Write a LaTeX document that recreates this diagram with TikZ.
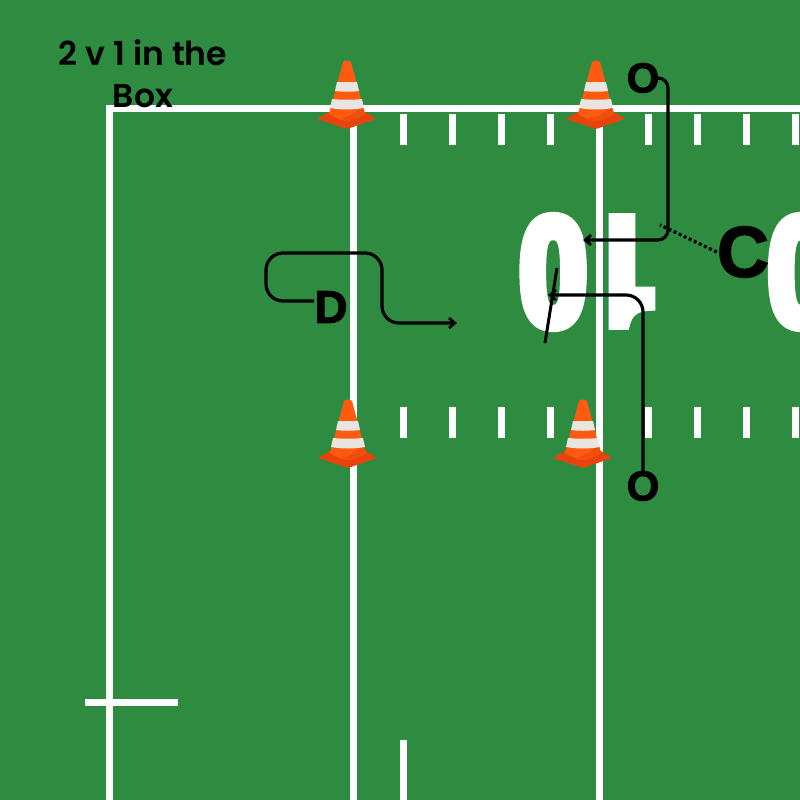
\documentclass[tikz,border=0pt]{standalone}
\usepackage{fontspec}
\usetikzlibrary{arrows.meta}
\setmainfont{Poppins}
\newfontfamily\yardfont[BoldFeatures={FakeStretch=0.78,FakeBold=6.9}]{TeX Gyre Heros}
\newfontfamily\labfont{Poppins SemiBold}
\newfontfamily\markfont[BoldFeatures={FakeBold=2}]{Liberation Sans}
\definecolor{turf}{HTML}{2D8C40}
\definecolor{coneor}{HTML}{FF5A0F}
\definecolor{conedk}{HTML}{E8430C}
\definecolor{conemd}{HTML}{EE4E0E}
\definecolor{conest}{HTML}{E9E6E2}
\tikzset{
  x=1pt,y=-1pt,
  fieldline/.style={line width=7pt,draw=white},
  route/.style={line width=3.2pt,draw=black,rounded corners=17pt},
  routearrow/.style={route,-{Straight Barb[length=6pt,width=10pt,line width=2.6pt]}},
  player/.style={text=black,inner sep=0pt},
  yard/.style={text=white,inner sep=0pt,rotate=180},
  pics/trafficcone/.style={code={
    \fill[conedk] (-30,58) -- (-18,51) -- (18,51) -- (29,58) -- (0,68) -- cycle;
    \fill[coneor] (-4,1) .. controls (-2,-1) and (2,-1) .. (4,1) -- (18,53) .. controls (10,58) and (3,60) .. (0,60) .. controls (-3,60) and (-12,57) .. (-18,53) -- cycle;
    \fill[conemd] (3,60) .. controls (10,58) and (14,56) .. (18,53) -- (15,42) .. controls (12,50) and (5,54) .. (-6,58) -- (0,60) -- cycle;
    \fill[conest] (-10,21) -- (10,21) -- (12,30) .. controls (4,31) and (-4,31) .. (-12,30) -- cycle;
    \fill[conest] (-15,38) .. controls (-5,39) and (5,39) .. (15,38) -- (17,47) .. controls (6,49) and (-6,49) .. (-17,47) -- cycle;
  }}
}
\begin{document}
\begin{tikzpicture}
\useasboundingbox (0,0) rectangle (800,800);
\fill[turf] (0,0) rectangle (800,800);
\begin{scope}
\clip (0,0) rectangle (800,800);
\node[yard,font=\yardfont\bfseries\fontsize{150}{150}\selectfont] (ten) at (589,272) {1\kern8pt 0};
\node[yard,font=\yardfont\bfseries\fontsize{150}{150}\selectfont] (zero) at (801,272) {0};
\end{scope}
% field lines
\draw[fieldline] (800,108) -- (109,108) -- (109,800);
\draw[fieldline] (353,108) -- (353,800);
\draw[fieldline] (599,108) -- (599,800);
\draw[fieldline] (85,702) -- (178,702);
\draw[fieldline] (403,740) -- (403,800);
\foreach \tx in {403,452,501,550,648,697,746,795}{
  \draw[fieldline] (\tx,114) -- (\tx,145);
  \draw[fieldline] (\tx,407) -- (\tx,438);
}
% cones
\pic at (347,61) {trafficcone};
\pic at (596,61) {trafficcone};
\pic at (348,400) {trafficcone};
\pic at (583,400) {trafficcone};
% labels
\node[player,font=\labfont\fontsize{33}{33}\selectfont] (t1) at (143,53) {2 v 1 in the};
\node[player,font=\labfont\fontsize{33}{33}\selectfont] (t2) at (143,96) {Box};
\node[player,font=\markfont\bfseries\fontsize{42}{42}\selectfont] (otop) at (643,78) {O};
\node[player,font=\markfont\bfseries\fontsize{42}{42}\selectfont] (obot) at (643,486) {O};
\node[player,font=\markfont\bfseries\fontsize{46}{46}\selectfont] (d) at (331,307) {D};
\node[player,font=\markfont\bfseries\fontsize{72}{72}\selectfont] (c) at (743,252) {C};
% connectors
\coordinate (a1) at (583,240);
\coordinate (a2) at (548,295);
\coordinate (a3) at (457,323);
\coordinate (cm) at (660,225);
\coordinate (s1) at (557,268);
\coordinate (s2) at (545,343);
\coordinate (v1) at (668,240);
\coordinate (v2) at (643,295);
\coordinate (dl) at (266,301);
\draw[routearrow,rounded corners=10pt] (otop.east) -- (otop.east -| v1) -- (v1) -- (a1);
\draw[routearrow] (obot.north) -- (v2) -- (a2);
\draw[routearrow] (d.west |- dl) -- (dl) -- (266,253) -- (382,253) -- (382,323) -- (a3);
\draw[line width=3.2pt,dash pattern=on 3pt off 2.6pt] (c.west) -- (cm);
\draw[line width=3pt] (s1) -- (s2);
\end{tikzpicture}
\end{document}
